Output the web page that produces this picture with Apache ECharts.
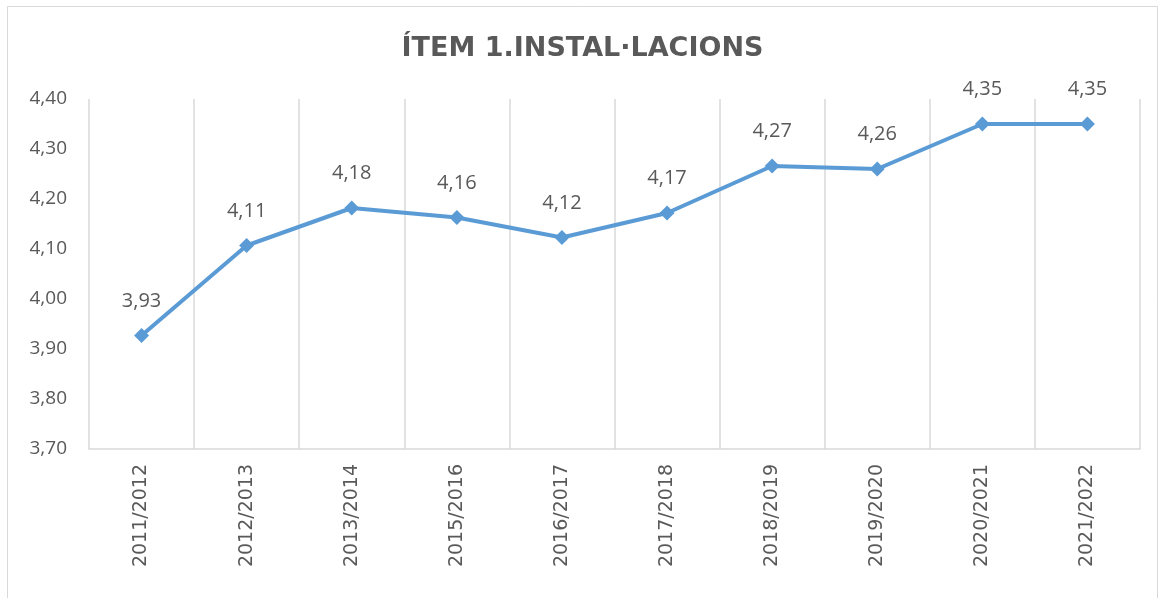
<!DOCTYPE html>
<html>
<head>
<meta charset="utf-8">
<script src="https://cdn.jsdelivr.net/npm/echarts@6/dist/echarts.min.js"></script>
<style>
  html, body { margin: 0; padding: 0; background: #fff; }
  #chart { width: 1165px; height: 598px; }
</style>
</head>
<body>
<div id="chart"></div>
<script>
// cursos i valors mitjans
var cursos = ['2011/2012', '2012/2013', '2013/2014', '2015/2016', '2016/2017',
  '2017/2018', '2018/2019', '2019/2020', '2020/2021', '2021/2022'];
var valors = [3.927, 4.107, 4.182, 4.163, 4.123, 4.172, 4.266, 4.260, 4.350, 4.350];
var titol = 'ÍTEM 1.INSTAL·LACIONS';

var chart = echarts.init(document.getElementById('chart'));

function coma(v) {
  return v.toFixed(2).replace('.', ',');
}

var option = {
  animation: false,
  backgroundColor: '#fff',
  graphic: [{
    type: 'rect',
    shape: { x: 7.5, y: 6.5, width: 1150, height: 600 },
    style: { fill: 'none', stroke: '#d9d9d9', lineWidth: 1 },
    silent: true
  }],
  title: {
    text: titol,
    left: 'center',
    top: 30,
    textStyle: {
      fontFamily: 'DejaVu Sans',
      fontSize: 27,
      fontWeight: 'bold',
      color: '#595959'
    }
  },
  grid: {
    left: 89,
    right: 25,
    top: 99,
    bottom: 149
  },
  xAxis: {
    type: 'category',
    data: cursos,
    boundaryGap: true,
    axisLine: { lineStyle: { color: '#d9d9d9', width: 1.5 } },
    axisTick: { show: false },
    splitLine: { show: true, lineStyle: { color: '#d9d9d9', width: 1.5 } },
    axisLabel: {
      rotate: 90,
      margin: 15,
      color: '#595959',
      fontFamily: 'DejaVu Sans',
      fontSize: 19
    }
  },
  yAxis: {
    type: 'value',
    min: 3.7,
    max: 4.4,
    interval: 0.1,
    axisLine: { show: false },
    axisTick: { show: false },
    splitLine: { show: false },
    axisLabel: {
      margin: 22,
      color: '#595959',
      fontFamily: 'Open Sans',
      fontSize: 19,
      formatter: function (v) { return coma(v); }
    }
  },
  series: [{
    type: 'line',
    data: valors,
    symbol: 'diamond',
    symbolSize: 15,
    lineStyle: { color: '#5b9bd5', width: 4 },
    itemStyle: { color: '#5b9bd5' },
    label: {
      show: true,
      position: 'top',
      distance: 17,
      color: '#595959',
      fontFamily: 'Open Sans',
      fontSize: 20,
      formatter: function (p) { return coma(p.value); }
    }
  }]
};

chart.setOption(option);
</script>
</body>
</html>
